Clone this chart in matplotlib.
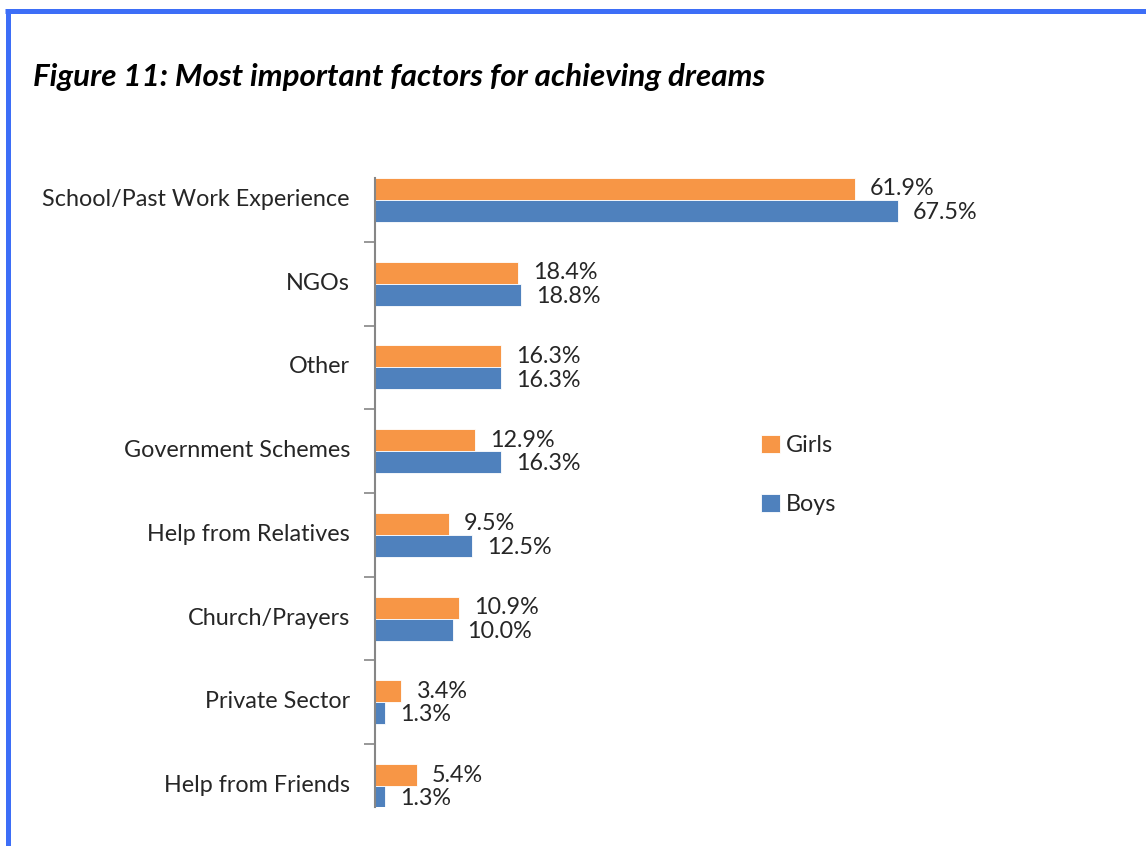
import numpy as np
import matplotlib.pyplot as plt
from matplotlib.lines import Line2D

categories = ['School/Past Work Experience', 'NGOs', 'Other', 'Government Schemes',
              'Help from Relatives', 'Church/Prayers', 'Private Sector', 'Help from Friends']
girls = [61.9, 18.4, 16.3, 12.9, 9.5, 10.9, 3.4, 5.4]
boys = [67.5, 18.8, 16.3, 16.3, 12.5, 10.0, 1.3, 1.3]

ORANGE = '#F79646'
BLUE = '#4F81BD'
FONT = 'Lato'
FS = 16.8

W, H = 1146, 846
fig = plt.figure(figsize=(W / 100, H / 100), dpi=100)
fig.patch.set_facecolor('white')

# plot area, in pixels from the top-left corner
left, right, top, bottom = 375, 995, 178, 807
ax = fig.add_axes([left / W, 1 - bottom / H, (right - left) / W, (bottom - top) / H])

y = np.arange(len(categories))
h = 0.262
ax.barh(y - h / 2, girls, height=h, color=ORANGE, edgecolor='white', linewidth=0.6, label='Girls')
ax.barh(y + h / 2, boys, height=h, color=BLUE, edgecolor='white', linewidth=0.6, label='Boys')

for i in range(len(categories)):
    ax.text(girls[i] + 1.95, i - h / 2, f'{girls[i]:.1f}%', va='center', ha='left',
            fontsize=FS, family=FONT, color='#262626', clip_on=True)
    ax.text(boys[i] + 1.95, i + h / 2 + 0.02, f'{boys[i]:.1f}%', va='center', ha='left',
            fontsize=FS, family=FONT, color='#262626', clip_on=True)

ax.set_xlim(0, 80)
ax.set_ylim(7.25, -h)

ax.set_yticks(y - 0.03)
ax.set_yticklabels(categories, fontsize=FS, family=FONT, color='#262626')
ax.set_yticks(y[:-1] + 0.5, minor=True)
ax.tick_params(axis='y', which='major', length=0, pad=18)
ax.tick_params(axis='y', which='minor', length=8, width=1.2, color='#868686')
ax.set_xticks([])

for s in ['top', 'right', 'bottom']:
    ax.spines[s].set_visible(False)
ax.spines['left'].set_color('#868686')
ax.spines['left'].set_linewidth(1.5)

leg = ax.legend(loc='upper left', bbox_to_anchor=(0.588, 0.625), frameon=False,
                prop={'family': FONT, 'size': FS}, handlelength=0.85, handleheight=0.85,
                handletextpad=0.25, labelspacing=1.6)
for t in leg.get_texts():
    t.set_color('#262626')

fig.text(33 / W, 1 - 77 / H, 'Figure 11: Most important factors for achieving dreams',
         fontsize=22.6, fontweight='bold', fontstyle='italic', family=FONT,
         va='center', ha='left', color='black')

# blue frame on the top and left edges
fig.add_artist(Line2D([5 / W, 1], [1 - 11.5 / H, 1 - 11.5 / H], transform=fig.transFigure,
                      color='#3D6EF7', linewidth=3.6, solid_capstyle='butt'))
fig.add_artist(Line2D([7.5 / W, 7.5 / W], [1 - 9 / H, 0], transform=fig.transFigure,
                      color='#3D6EF7', linewidth=3.6, solid_capstyle='butt'))

fig.savefig('out.png', dpi=100, facecolor='white')
